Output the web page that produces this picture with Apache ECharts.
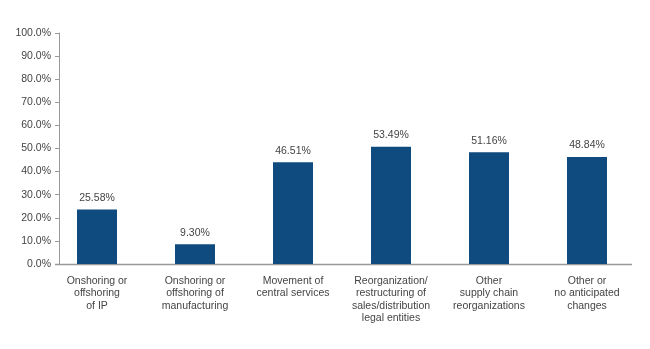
<!DOCTYPE html>
<html><head><meta charset="utf-8">
<script src="https://cdn.jsdelivr.net/npm/echarts@6/dist/echarts.min.js"></script>
<style>html,body{margin:0;padding:0;background:#fff}#c{width:650px;height:349px}</style>
</head><body><div id="c"></div>
<script>
const categories = [
  'Onshoring or\noffshoring\nof IP',
  'Onshoring or\noffshoring of\nmanufacturing',
  'Movement of\ncentral services',
  'Reorganization/\nrestructuring of\nsales/distribution\nlegal entities',
  'Other\nsupply chain\nreorganizations',
  'Other or\nno anticipated\nchanges'
];
const barHeights = [23.6, 8.6, 44.0, 50.8, 48.4, 46.3];
const valueLabels = ['25.58%', '9.30%', '46.51%', '53.49%', '51.16%', '48.84%'];
const yTicks = [0, 10, 20, 30, 40, 50, 60, 70, 80, 90, 100];

const FONT = '"Liberation Sans", Arial, sans-serif';
const chart = echarts.init(document.getElementById('c'));
chart.setOption({
  animation: false,
  grid: { left: 48, right: 14, top: 33, bottom: 85 },
  xAxis: {
    type: 'category', data: categories,
    axisLine: { show: false }, axisTick: { show: false },
    axisLabel: { color: '#444', fontSize: 10.5, fontFamily: FONT, lineHeight: 12.3, margin: 11, interval: 0 }
  },
  yAxis: {
    type: 'value', min: yTicks[0], max: yTicks[yTicks.length - 1], interval: 10,
    offset: -11,
    splitLine: { show: false },
    axisLine: { show: true, lineStyle: { color: '#999', width: 1 } },
    axisTick: { show: true, length: 4, lineStyle: { color: '#999' } },
    axisLabel: { color: '#444', fontSize: 10.5, fontFamily: FONT, margin: 8,
      formatter: v => v.toFixed(1) + '%' }
  },
  series: [{
    type: 'bar', data: barHeights, barWidth: 40,
    itemStyle: { color: '#104b7f' },
    label: { show: true, position: 'top', distance: 6, color: '#444', fontSize: 10.5, fontFamily: FONT,
      formatter: p => valueLabels[p.dataIndex] }
  }]
});
// baseline (x axis line) from the y-axis line to the plot end
const y0 = chart.convertToPixel({ yAxisIndex: 0 }, 0);
const xl = chart.convertToPixel({ xAxisIndex: 0 }, 0);
chart.setOption({
  graphic: [{
    type: 'line', silent: true,
    shape: { x1: 48 + 11 - 4, y1: Math.round(y0) + 0.5, x2: 632, y2: Math.round(y0) + 0.5 },
    style: { stroke: '#999', lineWidth: 1.5 }
  }]
});
</script></body></html>
